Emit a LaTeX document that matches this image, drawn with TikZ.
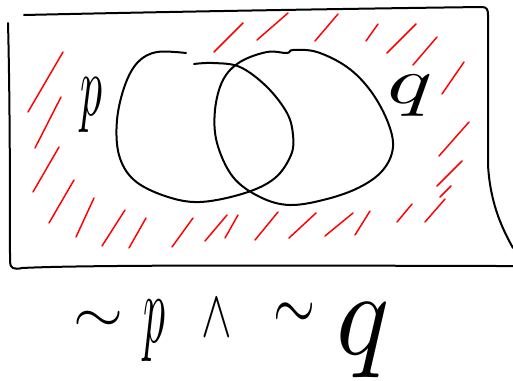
\documentclass[tikz,border=0pt]{standalone}
\usepackage{graphicx}
\begin{document}
\begin{tikzpicture}[x=0.75pt,y=-0.75pt,
  ink/.style={line width=1.5pt,line cap=round,line join=round,black},
  hatch/.style={line width=1.1pt,line cap=round,red},
  hand/.style={inner sep=0pt}]
\useasboundingbox (0,0) rectangle (513,380);
% frame
\draw[ink] (24,15) .. controls (200,11) and (400,8) .. (482,7) .. controls (487,7) and (488,10) .. (488,15) -- (488,165) .. controls (490,200) and (500,225) .. (513,248);
\draw[ink] (8,23) .. controls (10,100) and (10,200) .. (10,262) .. controls (10,268) and (14,270) .. (22,268) .. controls (100,264) and (400,266) .. (513,266);
% sets
\draw[ink] plot[smooth,tension=0.6] coordinates {(186,53) (157,52) (138,62) (125,85) (117,120) (119,155) (134,180) (165,196) (200,202) (245,193) (275,178) (291,155) (293,135) (287,113) (267,87) (240,67) (213,63) (194,64)};
\draw[ink] plot[smooth cycle,tension=0.6] coordinates {(287,53) (267,52) (240,62) (223,80) (215,110) (217,143) (233,177) (260,197) (290,205) (327,199) (360,187) (383,170) (393,147) (387,120) (370,90) (347,67) (317,52) (293,50)};
% labels
\node[hand] (p) at (91,105) {\resizebox*{16.5pt}{41pt}{$p$}};
\node[hand] (q) at (410,96) {\resizebox*{34pt}{31pt}{$q$}};
% hatching
\foreach \a/\b/\c/\d in {214/52/243/23, 257/40/288/13, 315/41/338/14, 366/41/378/24, 387/53/416/24, 413/65/437/37, 442/94/464/62, 439/156/469/122, 437/186/462/161, 440/197/451/186, 425/222/445/199, 397/222/412/204, 355/235/370/211, 325/236/353/213, 289/238/316/213, 255/240/278/212, 225/238/238/215, 205/241/227/215, 172/247/193/218, 129/248/146/218, 102/246/125/210, 76/237/94/198, 49/223/74/180, 33/192/59/147, 35/148/61/97, 28/112/63/52}
  \draw[hatch] (\a,\b) -- (\c,\d);
% formula
\node[hand] (n1) at (98,322) {\resizebox*{37.5pt}{16pt}{$\sim$}};
\node[hand] (fp) at (154,331) {\resizebox*{16.5pt}{46pt}{$p$}};
\node[hand] (and) at (217,318) {\resizebox*{23pt}{28pt}{$\wedge$}};
\node[hand] (n2) at (294,316) {\resizebox*{31.5pt}{20pt}{$\sim$}};
\node[hand] (fq) at (363,340) {\resizebox*{40pt}{56pt}{$q$}};
\end{tikzpicture}
\end{document}
